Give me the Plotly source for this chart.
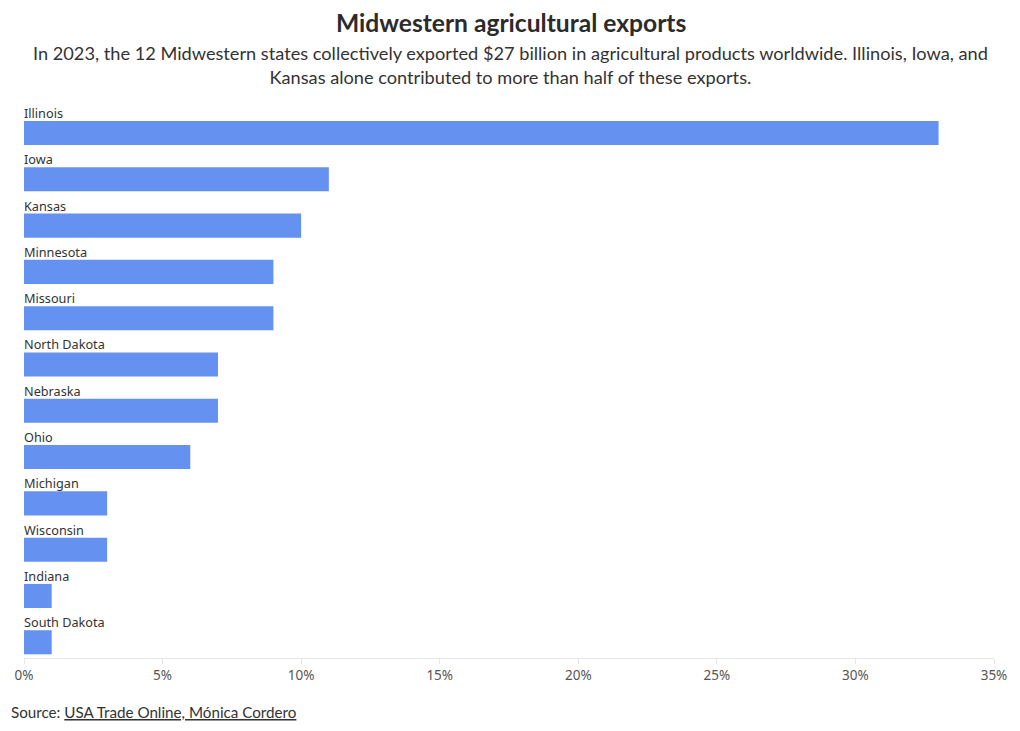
import plotly.graph_objects as go

states = ["Illinois", "Iowa", "Kansas", "Minnesota", "Missouri", "North Dakota",
          "Nebraska", "Ohio", "Michigan", "Wisconsin", "Indiana", "South Dakota"]
share_pct = [33, 11, 10, 9, 9, 7, 7, 6, 3, 3, 1, 1]
tick_vals = [0, 5, 10, 15, 20, 25, 30, 35]
tick_text = ["0%", "5%", "10%", "15%", "20%", "25%", "30%", "35%"]

title_text = "Midwestern agricultural exports"
subtitle_text = ("In 2023, the 12 Midwestern states collectively exported $27 billion in agricultural products worldwide. Illinois, Iowa, and<br>"
                 "Kansas alone contributed to more than half of these exports.")
source_text = "Source: <span style='text-decoration:underline'>USA Trade Online, Mónica Cordero</span>"

BAR = "#6592f1"
FONT = "Lato, 'Source Sans Pro', sans-serif"
LABEL_FONT = "'Noto Sans', 'IBM Plex Sans', sans-serif"

W, H = 1020, 731
L, R, T, B = 24, 26, 100, 73

pos = list(range(len(states)))

fig = go.Figure()
fig.add_trace(go.Bar(
    x=share_pct, y=pos, orientation="h",
    marker=dict(color=BAR, line=dict(width=0)),
    width=0.52, hoverinfo="x+text", text=states, textposition="none",
))

for i, s in enumerate(states):
    fig.add_annotation(x=0, y=i, xref="x", yref="y", text=s, showarrow=False,
                       xanchor="left", yanchor="middle", yshift=20, xshift=-2,
                       font=dict(family=LABEL_FONT, size=12.7, color="#333333"))

def px(xpix):
    return (xpix - L) / (W - L - R)

def py(ypix):
    return (H - B - ypix) / (H - T - B)

fig.add_annotation(x=px(511), y=py(23), xref="paper", yref="paper", showarrow=False,
                   xanchor="center", yanchor="middle",
                   text="<b>" + title_text + "</b>",
                   font=dict(family=FONT, size=24.6, color="#2b2b2b"))
fig.add_annotation(x=px(510), y=py(65), xref="paper", yref="paper", showarrow=False,
                   xanchor="center", yanchor="middle", align="center",
                   text=subtitle_text,
                   font=dict(family=FONT, size=18.2, color="#333333"))
fig.add_annotation(x=px(9), y=py(712), xref="paper", yref="paper", showarrow=False,
                   xanchor="left", yanchor="middle", align="left",
                   text=source_text,
                   font=dict(family=FONT, size=15.2, color="#333333"))

fig.update_layout(
    width=W, height=H,
    margin=dict(l=L, r=R, t=T, b=B),
    paper_bgcolor="white", plot_bgcolor="white",
    showlegend=False,
    xaxis=dict(range=[0, 35], tickvals=tick_vals, ticktext=tick_text,
               showgrid=False, zeroline=False, showline=True, linecolor="#e6e6e6", linewidth=1,
               ticks="outside", ticklen=5, tickcolor="#e6e6e6",
               tickfont=dict(family=LABEL_FONT, size=13.5, color="#555555"), fixedrange=True),
    yaxis=dict(range=[11.34, -0.713], showticklabels=False, showgrid=False, zeroline=False,
               showline=False, fixedrange=True),
    font=dict(family=FONT),
)

fig.write_html("out.html", config={"displayModeBar": False},
               post_script="document.body.style.margin='0';document.body.style.overflow='hidden';")
